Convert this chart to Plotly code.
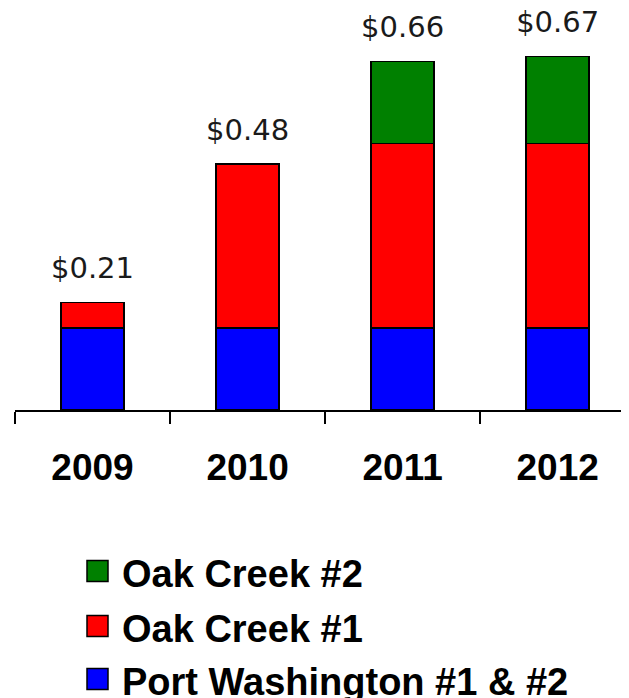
import numpy as np
import plotly.graph_objects as go

years = ["2009", "2010", "2011", "2012"]
port_washington = [0.16, 0.16, 0.16, 0.16]
oak_creek_1 = [0.05, 0.32, 0.36, 0.36]
oak_creek_2 = [0.0, 0.0, 0.16, 0.17]
total_labels = ["$0.21", "$0.48", "$0.66", "$0.67"]
series_names = ["Port Washington #1 & #2", "Oak Creek #1", "Oak Creek #2"]
series_colors = ["#0000FF", "#FF0000", "#008000"]

series_values = [port_washington, oak_creek_1, oak_creek_2]
totals = np.sum(np.array(series_values), axis=0)

fig = go.Figure()
for name, vals, col in zip(series_names, series_values, series_colors):
    fig.add_trace(go.Bar(
        x=years, y=vals, name=name,
        marker=dict(color=col, line=dict(color="black", width=1.6)),
        showlegend=False, hoverinfo="skip",
    ))

# total labels above the stacks
fig.add_trace(go.Scatter(
    x=years, y=totals, text=total_labels, mode="markers+text",
    textposition="top center",
    marker=dict(size=26, color="rgba(0,0,0,0)"),
    textfont=dict(family="DejaVu Sans", size=29, color="#1a1a1a"),
    showlegend=False, hoverinfo="skip", cliponaxis=False,
))

# geometry (window pixels; page body adds an 8px offset)
FW, FH = 621, 690
ML, MT = 7, 0
PW, PH = 614, 402
def px2x(wx):
    return (wx - 15) / PW
def py2y(wy):
    return (410 - wy) / PH

legend_rows = [571, 626, 679]
for row_y, name, col in zip(legend_rows, series_names[::-1], series_colors[::-1]):
    fig.add_shape(
        type="rect", xref="paper", yref="paper",
        x0=px2x(87), x1=px2x(108), y0=py2y(row_y + 10.5), y1=py2y(row_y - 10.5),
        fillcolor=col, line=dict(color="black", width=1.5),
    )
    fig.add_annotation(
        x=px2x(120), y=py2y(row_y + 3), xref="paper", yref="paper",
        text="<b>" + name + "</b>", showarrow=False,
        xanchor="left", yanchor="middle",
        font=dict(family="Liberation Sans", size=38, color="black"),
    )

fig.update_layout(
    width=FW, height=FH,
    margin=dict(l=ML, r=FW - ML - PW, t=MT, b=FH - MT - PH),
    barmode="stack",
    bargap=0.594,
    plot_bgcolor="white",
    paper_bgcolor="white",
    showlegend=False,
)
fig.update_xaxes(
    type="category",
    range=[-0.5, 3.46],
    showline=True, linecolor="black", linewidth=1.6,
    ticks="outside", tickson="boundaries", ticklen=12, tickwidth=1.6, tickcolor="black",
    tickfont=dict(family="Liberation Sans", size=37, color="black", weight="bold"),
    ticklabelstandoff=24,
    showgrid=False, zeroline=False,
)
fig.update_yaxes(
    range=[0, PH / 512.5], visible=False, showgrid=False, zeroline=False,
)

fig.write_html("out.html")
